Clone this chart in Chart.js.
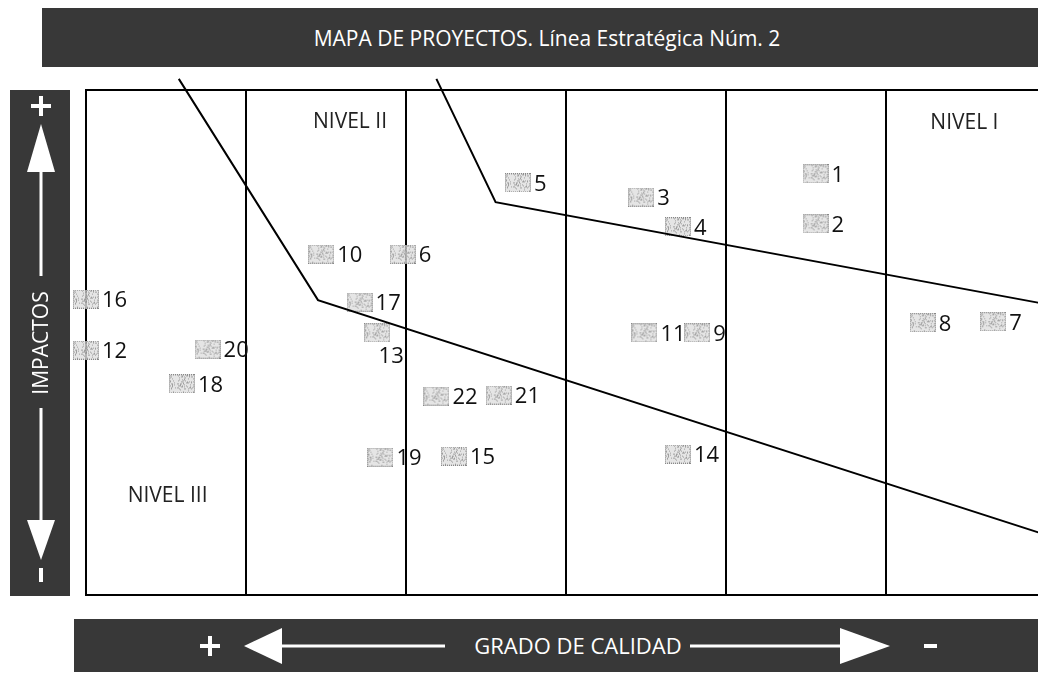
<!DOCTYPE html>
<html>
<head>
<meta charset="utf-8">
<script src="https://cdn.jsdelivr.net/npm/chart.js@4.4.0/dist/chart.umd.min.js"></script>
<style>
  html, body { margin: 0; padding: 0; background: #fff; overflow: hidden; width: 1038px; height: 679px; }
  #mapa { position: absolute; left: 0; top: 0; }
  #bandas { position: absolute; left: 0; top: 0; font-family: "Open Sans", sans-serif; }
</style>
</head>
<body>
<canvas id="mapa" width="1060" height="679"></canvas>
<svg id="bandas" width="1038" height="679">
  <!-- top title band -->
  <rect x="42" y="8" width="1000" height="59" fill="#383838"/>
  <text x="547" y="46" text-anchor="middle" fill="#fff" font-size="21">MAPA DE PROYECTOS. Línea Estratégica Núm. 2</text>
  <!-- left band: IMPACTOS -->
  <rect x="10" y="90" width="60" height="506" fill="#383838"/>
  <rect x="39" y="96" width="4" height="20" fill="#fff"/>
  <rect x="31" y="104" width="20" height="4" fill="#fff"/>
  <polygon points="41,124 27,172 55,172" fill="#fff"/>
  <rect x="39.5" y="170" width="3" height="106" fill="#fff"/>
  <text transform="translate(48,343) rotate(-90)" text-anchor="middle" fill="#fff" font-size="21">IMPACTOS</text>
  <rect x="39.5" y="408" width="3" height="114" fill="#fff"/>
  <polygon points="27,520 55,520 41,560" fill="#fff"/>
  <rect x="39" y="568" width="4" height="14" fill="#fff"/>
  <!-- bottom band: GRADO DE CALIDAD -->
  <rect x="74" y="619" width="970" height="53" fill="#383838"/>
  <rect x="208" y="636" width="4" height="20" fill="#fff"/>
  <rect x="200" y="644" width="20" height="4" fill="#fff"/>
  <polygon points="244,646 282,628 282,664" fill="#fff"/>
  <rect x="280" y="644.5" width="165" height="3" fill="#fff"/>
  <text x="578" y="654" text-anchor="middle" fill="#fff" font-size="22">GRADO DE CALIDAD</text>
  <rect x="690" y="644.5" width="152" height="3" fill="#fff"/>
  <polygon points="840,628 840,664 890,646" fill="#fff"/>
  <rect x="924" y="644" width="13" height="4" fill="#fff"/>
</svg>
<script>
// proyectos: numero, grado de calidad (columnas 0..6, + a la izquierda), impacto (0..100)
const proyectos = ['1','2','3','4','5','6','7','8','9','10','11','12','13','14','15','16','17','18','19','20','21','22'];
const calidad = [4.56, 4.56, 3.47, 3.70, 2.70, 1.98, 5.67, 5.23, 3.82, 1.47, 3.49, 0.00, 1.82, 3.70, 2.30, 0.00, 1.71, 0.60, 1.84, 0.76, 2.58, 2.19];
const impacto = [83.4, 73.5, 78.8, 72.9, 81.6, 67.5, 54.1, 53.9, 51.9, 67.5, 51.9, 48.5, 51.9, 27.9, 27.5, 58.6, 58.0, 41.8, 27.3, 48.7, 39.6, 39.4];

// limites entre niveles
const limite1X = [0.58, 1.45, 6.0];
const limite1Y = [102.2, 58.4, 11.9];
const limite2X = [2.19, 2.56, 6.0];
const limite2Y = [102.2, 77.8, 57.6];

const niveles = ['NIVEL I', 'NIVEL II', 'NIVEL III'];
const nivelX = [5.49, 1.65, 0.51];
const nivelY = [93.9, 94.1, 20.0];

const etiquetaDebajo = ['13'];

// cuadrito gris punteado (trama fija, sin aleatorios)
function cuadrito() {
  const c = document.createElement('canvas');
  c.width = 26; c.height = 19;
  const g = c.getContext('2d');
  g.fillStyle = 'rgba(222,222,222,0.8)';
  g.fillRect(0, 0, 26, 19);
  g.fillStyle = 'rgba(130,130,130,0.7)';
  for (let y = 1; y < 18; y++) {
    for (let x = 1; x < 25; x++) {
      const h = ((x * 37) ^ (y * 91) ^ (x * y * 13)) % 5;
      if (h === 0) g.fillRect(x, y, 1, 1);
    }
  }
  g.fillStyle = '#888';
  for (let x = 0; x < 26; x += 2) { g.fillRect(x, 0, 1, 1); g.fillRect(x, 18, 1, 1); }
  for (let y = 0; y < 19; y += 2) { g.fillRect(0, y, 1, 1); g.fillRect(25, y, 1, 1); }
  return c;
}

const toPts = (xs, ys) => xs.map((x, i) => ({x: x, y: ys[i]}));

const etiquetas = {
  id: 'etiquetas',
  afterDatasetsDraw(chart) {
    const ctx = chart.ctx;
    const meta = chart.getDatasetMeta(2);
    ctx.save();
    ctx.fillStyle = '#111';
    ctx.font = '22px "Open Sans"';
    meta.data.forEach((pt, i) => {
      const txt = proyectos[i];
      if (etiquetaDebajo.includes(txt)) {
        ctx.textAlign = 'center';
        ctx.fillText(txt, pt.x + 14, pt.y + 30);
      } else {
        ctx.textAlign = 'left';
        ctx.fillText(txt, pt.x + 16, pt.y + 8);
      }
    });
    const xs = chart.scales.x, ys = chart.scales.y;
    ctx.font = '21px "Open Sans"';
    ctx.fillStyle = '#222';
    ctx.textAlign = 'center';
    niveles.forEach((n, i) => {
      ctx.fillText(n, xs.getPixelForValue(nivelX[i]), ys.getPixelForValue(nivelY[i]) + 8);
    });
    ctx.restore();
  }
};

new Chart(document.getElementById('mapa'), {
  type: 'scatter',
  data: {
    datasets: [
      {
        label: 'limite 1',
        data: toPts(limite1X, limite1Y),
        showLine: true, borderColor: '#000', borderWidth: 2, pointRadius: 0, clip: false
      },
      {
        label: 'limite 2',
        data: toPts(limite2X, limite2Y),
        showLine: true, borderColor: '#000', borderWidth: 2, pointRadius: 0, clip: false
      },
      {
        label: 'proyectos',
        data: toPts(calidad, impacto),
        pointStyle: cuadrito(), pointRadius: 13, clip: false
      }
    ]
  },
  options: {
    responsive: false,
    animation: false,
    layout: { padding: { left: 86, top: 90, right: 12, bottom: 84 } },
    plugins: { legend: { display: false }, tooltip: { enabled: false } },
    scales: {
      x: {
        type: 'linear', min: 0, max: 6,
        ticks: { display: false, stepSize: 1 },
        grid: { color: '#000', lineWidth: 2, drawTicks: false },
        border: { color: '#000', width: 2 }
      },
      y: {
        type: 'linear', min: 0, max: 100,
        ticks: { display: false, stepSize: 100 },
        grid: { color: '#000', lineWidth: 2, drawTicks: false },
        border: { color: '#000', width: 2 }
      }
    }
  },
  plugins: [etiquetas]
});
</script>
</body>
</html>
